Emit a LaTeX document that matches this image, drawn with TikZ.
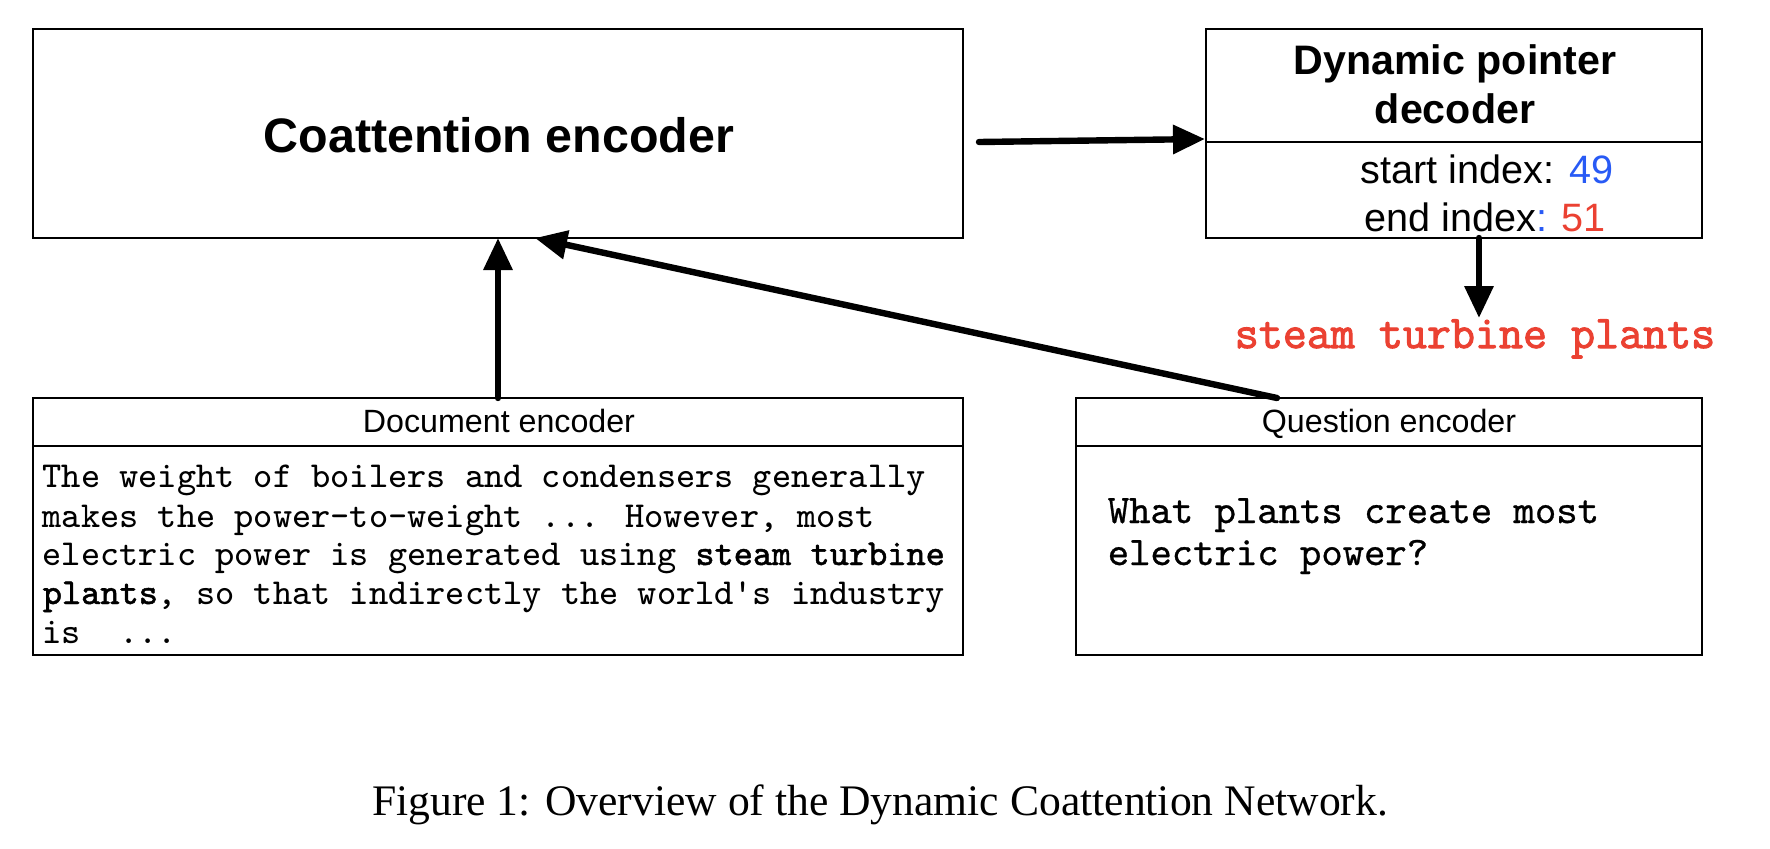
\documentclass[tikz,border=0pt]{standalone}
\usepackage{fontspec}
\setmainfont{Liberation Serif}
\setsansfont{Liberation Sans}
\newfontfamily\heavytt[FakeBold=2.2]{Latin Modern Mono}
\newfontfamily\semitt[FakeBold=1.2]{Latin Modern Mono}
\newfontfamily\qfonttt[FakeBold=0.7]{Latin Modern Mono}
\usetikzlibrary{arrows.meta,calc}
\definecolor{idxblue}{RGB}{40,90,245}
\definecolor{ansred}{RGB}{235,65,50}
\begin{document}
\begin{tikzpicture}[x=0.25pt,y=-0.25pt,
  boxs/.style={draw=black,line width=0.6pt,inner sep=0pt,outer sep=0pt,anchor=north west},
  divline/.style={draw=black,line width=0.6pt},
  conn/.style={line width=1.6pt,line cap=round,-{Triangle[length=8pt,width=7pt]}},
  lbl/.style={inner sep=0pt,anchor=base},
  lblw/.style={inner sep=0pt,anchor=base west},
  bigsans/.style={font=\sffamily\bfseries\fontsize{12.1}{14}\selectfont},
  titsans/.style={font=\sffamily\bfseries\fontsize{10.3}{12}\selectfont},
  idxsans/.style={font=\sffamily\fontsize{9.9}{12}\selectfont},
  hdrsans/.style={font=\sffamily\fontsize{8.05}{10}\selectfont},
  doctt/.style={font=\ttfamily\fontsize{9.14}{10}\selectfont},
  qtt/.style={font=\qfonttt\fontsize{10.17}{12}\selectfont},
  anstt/.style={font=\heavytt\fontsize{11.66}{13}\selectfont,text=ansred}]
\useasboundingbox (0,0) rectangle (1770,848);

% boxes
\node[boxs,minimum width=232.5pt,minimum height=52.25pt] (coat) at (33,29) {};
\node[boxs,minimum width=124pt,minimum height=52.25pt] (dec) at (1206,29) {};
\node[boxs,minimum width=232.5pt,minimum height=64.25pt] (doc) at (33,398) {};
\node[boxs,minimum width=156.5pt,minimum height=64.25pt] (q) at (1076,398) {};

% dividers
\draw[divline] ($(dec.north west)+(0,113)$) -- ($(dec.north east)+(0,113)$);
\draw[divline] ($(doc.north west)+(0,48)$) -- ($(doc.north east)+(0,48)$);
\draw[divline] ($(q.north west)+(0,48)$) -- ($(q.north east)+(0,48)$);

% texts
\node[lbl,bigsans] (coatT) at (499,152) {Coattention encoder};
\node[lbl,titsans] (decT1) at (1455,74) {Dynamic pointer};
\node[lbl,titsans] (decT2) at (1455,123) {decoder};
\node[lbl,idxsans] (startT) at (1487,183) {start index: \textcolor{idxblue}{49}};
\node[lbl,idxsans] (endT) at (1485,231) {end index\textcolor{idxblue}{:} \textcolor{ansred}{51}};
\node[lbl,anstt] (ans) at (1475,348) {steam turbine plants};
\node[lbl,hdrsans] (docT) at (499,432) {Document encoder};
\node[lbl,hdrsans] (qT) at (1389,432) {Question encoder};

\node[lblw,doctt] (d1) at (42,487) {The weight of boilers and condensers generally};
\node[lblw,doctt] (d2) at (42,527) {makes the power-to-weight ... However, most};
\node[lblw,doctt] (d3) at (42,565) {electric power is generated using {\semitt steam turbine}};
\node[lblw,doctt] (d4) at (42,604) {{\semitt plants}, so that indirectly the world's industry};
\node[lblw,doctt] (d5) at (42,643) {is\ \ ...};

\node[lblw,qtt] (q1) at (1107,523) {What plants create most};
\node[lblw,qtt] (q2) at (1107,565) {electric power?};

\node[lbl,font=\rmfamily\fontsize{10.9}{13}\selectfont] (cap) at (880,815) {Figure 1: Overview of the Dynamic Coattention Network.};

% connectors
\coordinate (ansTop) at (1479,318);
\draw[conn] ($(coat.east)+(16,8.5)$) -- ($(dec.west)+(-1,5.5)$);
\draw[conn] ($(dec.south)+(25,0)$) -- (ansTop);
\draw[conn] (doc.north) -- (coat.south);
\draw[conn] ($(q.north)+(-112,0)$) -- ($(coat.south)+(37,0)$);
\end{tikzpicture}
\end{document}
